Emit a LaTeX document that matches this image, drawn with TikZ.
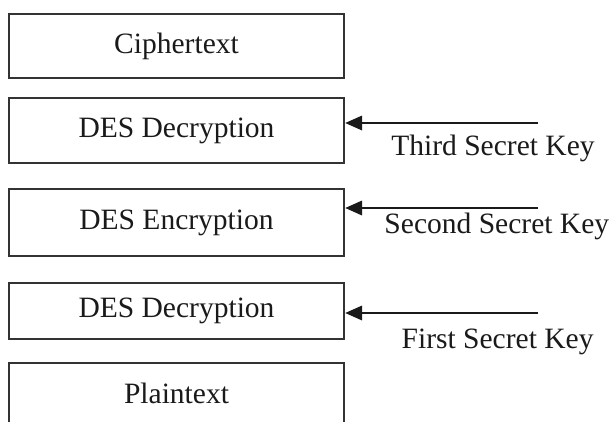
\documentclass[tikz,border=0pt]{standalone}
\usepackage{fontspec}
\setmainfont{Liberation Serif}
\usepackage{tikz}
\usetikzlibrary{arrows.meta,positioning,calc}
\definecolor{ink}{HTML}{1A1A1A}
\definecolor{frame}{HTML}{333333}
\tikzset{
  >={Triangle[length=4.2mm,width=3.6mm]},
  stage/.style={draw=frame,line width=1.7pt,fill=white,minimum width=8.375cm,inner sep=0pt,
    font=\fontsize{21}{25}\selectfont,text=ink},
  keyflow/.style={->,line width=1.4pt,color=ink},
  keylabel/.style={anchor=base,font=\fontsize{21}{25}\selectfont,text=ink},
}

\begin{document}
\begin{tikzpicture}[x=1cm,y=1cm]
  \useasboundingbox (0,0) rectangle (15.3,-10.525);
  \node[stage,minimum height=1.6cm]   (cipher) at (4.4125,-1.15)   {Ciphertext};
  \node[stage,minimum height=1.625cm] (dec2)   at (4.4125,-3.2625) {DES Decryption};
  \node[stage,minimum height=1.675cm] (enc)    at (4.4125,-5.5625) {DES Encryption};
  \node[stage,minimum height=1.4cm]   (dec1)   at (4.4125,-7.775)  {DES Decryption};
  \node[stage,minimum height=1.5cm]   (plain)  at (4.4125,-9.825)  {Plaintext};
  % keys come in from the right
  \coordinate (k3) at (13.45,-3.075);
  \coordinate (k2) at (13.45,-5.2);
  \coordinate (k1) at (13.45,-7.825);
  \draw[keyflow] (k3)--(k3 -| dec2.east);
  \draw[keyflow] (k2)--(k2 -| enc.east);
  \draw[keyflow] (k1)--(k1 -| dec1.east);
  \node[keylabel] (third)  at (12.325,-3.875) {Third Secret Key};
  \node[keylabel] (second) at (12.42,-5.825)  {Second Secret Key};
  \node[keylabel] (first)  at (12.44,-8.7)    {First Secret Key};
\end{tikzpicture}
\end{document}
